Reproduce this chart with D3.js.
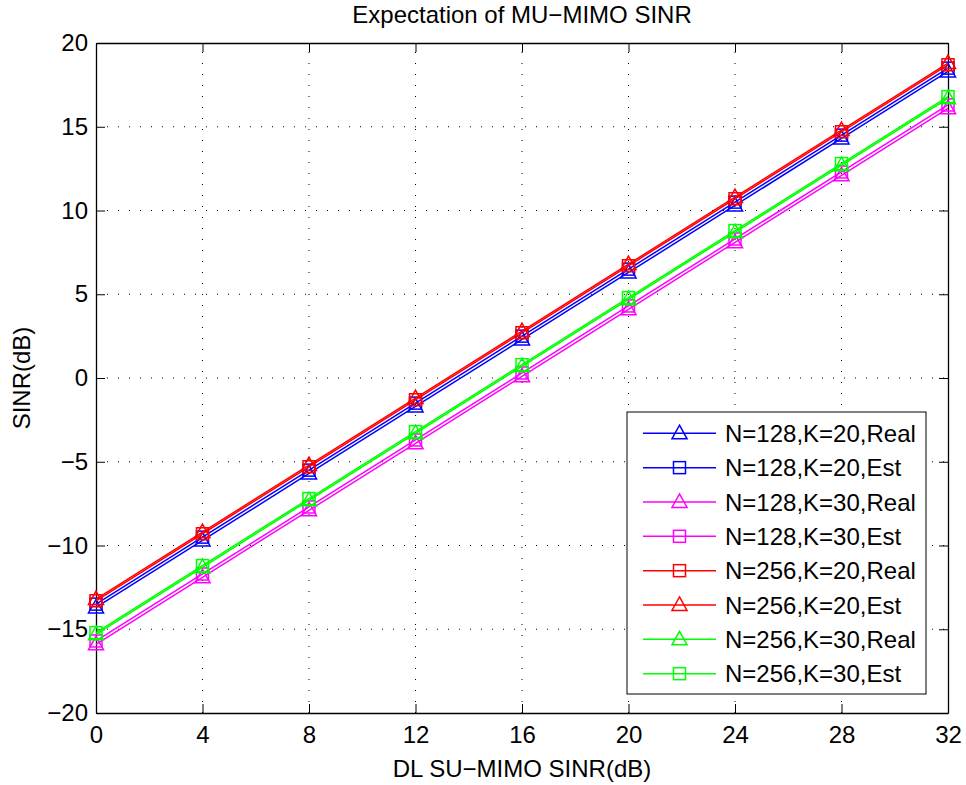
<!DOCTYPE html>
<html><head><meta charset="utf-8">
<script src="https://cdnjs.cloudflare.com/ajax/libs/d3/7.8.5/d3.min.js"></script>
<style>
body{margin:0;background:#fff;}
svg{display:block;font-family:"Liberation Sans",Arial,Helvetica,sans-serif;}
</style></head><body>
<svg id="chart" width="966" height="785"></svg>
<script>
const xValues = [0, 4, 8, 12, 16, 20, 24, 28, 32];
const xTicks = [0, 4, 8, 12, 16, 20, 24, 28, 32];
const yTicks = [-20, -15, -10, -5, 0, 5, 10, 15, 20];

const blueReal    = [-13.7, -9.7, -5.7, -1.7, 2.3, 6.3, 10.3, 14.3, 18.3];
const blueEst     = [-13.5, -9.5, -5.5, -1.5, 2.5, 6.5, 10.5, 14.5, 18.5];
const magentaReal = [-15.9, -11.9, -7.9, -3.9, 0.1, 4.1, 8.1, 12.1, 16.1];
const magentaEst  = [-15.7, -11.7, -7.7, -3.7, 0.3, 4.3, 8.3, 12.3, 16.3];
const redReal     = [-13.3, -9.3, -5.3, -1.3, 2.7, 6.7, 10.7, 14.7, 18.7];
const redEst      = [-13.2, -9.2, -5.2, -1.2, 2.8, 6.8, 10.8, 14.8, 18.8];
const greenReal   = [-15.3, -11.3, -7.3, -3.3, 0.7, 4.7, 8.7, 12.7, 16.7];
const greenEst    = [-15.2, -11.2, -7.2, -3.2, 0.8, 4.8, 8.8, 12.8, 16.8];

const seriesNames = ["N=128,K=20,Real","N=128,K=20,Est","N=128,K=30,Real","N=128,K=30,Est",
                     "N=256,K=20,Real","N=256,K=20,Est","N=256,K=30,Real","N=256,K=30,Est"];
const seriesValues = [blueReal, blueEst, magentaReal, magentaEst, redReal, redEst, greenReal, greenEst];
const seriesColors = ["#0000ff","#0000ff","#ff00ff","#ff00ff","#ff0000","#ff0000","#00ff00","#00ff00"];
const seriesMarkers = ["tri","sq","tri","sq","sq","tri","tri","sq"];

const titleText = "Expectation of MU\u2212MIMO SINR";
const xLabel = "DL SU\u2212MIMO SINR(dB)";
const yLabel = "SINR(dB)";

const L = 96, R = 948, T = 43, B = 713;
const FS = 24;
const svg = d3.select("#chart");
const x = d3.scaleLinear().domain([0, 32]).range([L, R]);
const y = d3.scaleLinear().domain([-20, 20]).range([B, T]);
const fmt = d => (d < 0 ? "\u2212" + Math.abs(d) : String(d));

// grid
const grid = svg.append("g");
grid.selectAll(".gx").data(xTicks.slice(1, -1)).join("line")
  .attr("x1", d => x(d)).attr("x2", d => x(d)).attr("y1", B).attr("y2", T)
  .attr("stroke", "#000").attr("stroke-width", 1).attr("stroke-dasharray", "1,10");
grid.selectAll(".gy").data(yTicks.slice(1, -1)).join("line")
  .attr("y1", d => y(d)).attr("y2", d => y(d)).attr("x1", L).attr("x2", R)
  .attr("stroke", "#000").attr("stroke-width", 1).attr("stroke-dasharray", "1,10");

// axes with inward ticks
const tk = 9;
const axB = svg.append("g").attr("transform", `translate(0,${B})`)
  .call(d3.axisBottom(x).tickValues(xTicks).tickFormat(fmt).tickSizeInner(-tk).tickSizeOuter(0).tickPadding(13));
const axT = svg.append("g").attr("transform", `translate(0,${T})`)
  .call(d3.axisTop(x).tickValues(xTicks).tickFormat("").tickSizeInner(-tk).tickSizeOuter(0));
const axLft = svg.append("g").attr("transform", `translate(${L},0)`)
  .call(d3.axisLeft(y).tickValues(yTicks).tickFormat(fmt).tickSizeInner(-tk).tickSizeOuter(0).tickPadding(8));
const axRt = svg.append("g").attr("transform", `translate(${R},0)`)
  .call(d3.axisRight(y).tickValues(yTicks).tickFormat("").tickSizeInner(-tk).tickSizeOuter(0));
[axB, axT, axLft, axRt].forEach(a => {
  a.select(".domain").attr("stroke", "#000").attr("stroke-width", 1.3);
  a.selectAll(".tick line").attr("stroke", "#000").attr("stroke-width", 1);
  a.selectAll("text").attr("font-size", FS).attr("fill", "#000")
    .attr("font-family", '"Liberation Sans",Arial,sans-serif');
});

// series
const line = d3.line().x((d, i) => x(xValues[i])).y(d => y(d));
const triPath = (cx, cy, s) => `M${cx},${cy - s * 0.62}L${cx + s * 0.58},${cy + s * 0.42}L${cx - s * 0.58},${cy + s * 0.42}Z`;
function drawMarker(g, m, cx, cy, color) {
  if (m === "tri") {
    g.append("path").attr("d", triPath(cx, cy, 13)).attr("fill", "none")
      .attr("stroke", color).attr("stroke-width", 1.5);
  } else {
    g.append("rect").attr("x", cx - 6).attr("y", cy - 6).attr("width", 12).attr("height", 12)
      .attr("fill", "none").attr("stroke", color).attr("stroke-width", 1.5);
  }
}
const plot = svg.append("g");
seriesValues.forEach((vals, si) => {
  const g = plot.append("g");
  g.append("path").attr("d", line(vals)).attr("fill", "none")
    .attr("stroke", seriesColors[si]).attr("stroke-width", 1.5);
  vals.forEach((v, i) => drawMarker(g, seriesMarkers[si], x(xValues[i]), y(v), seriesColors[si]));
});

// legend
const lg = svg.append("g");
lg.append("rect").attr("x", 627).attr("y", 412).attr("width", 299).attr("height", 282)
  .attr("fill", "#fff").attr("stroke", "#000").attr("stroke-width", 1);
seriesNames.forEach((name, i) => {
  const cy = 433.3 + i * 34.34;
  const g = lg.append("g");
  g.append("line").attr("x1", 643).attr("x2", 716).attr("y1", cy).attr("y2", cy)
    .attr("stroke", seriesColors[i]).attr("stroke-width", 1.5);
  drawMarker(g, seriesMarkers[i], 679.5, cy, seriesColors[i]);
  g.append("text").attr("x", 725).attr("y", cy).attr("dy", "0.36em")
    .attr("font-size", FS).attr("fill", "#000").text(name);
});

// labels
svg.append("text").attr("x", (L + R) / 2).attr("y", 23).attr("text-anchor", "middle")
  .attr("font-size", FS).attr("fill", "#000").text(titleText);
svg.append("text").attr("x", (L + R) / 2).attr("y", 777).attr("text-anchor", "middle")
  .attr("font-size", FS).attr("fill", "#000").text(xLabel);
svg.append("text").attr("transform", `translate(30,${(T + B) / 2}) rotate(-90)`)
  .attr("text-anchor", "middle").attr("font-size", FS).attr("fill", "#000").text(yLabel);
</script>
</body></html>
